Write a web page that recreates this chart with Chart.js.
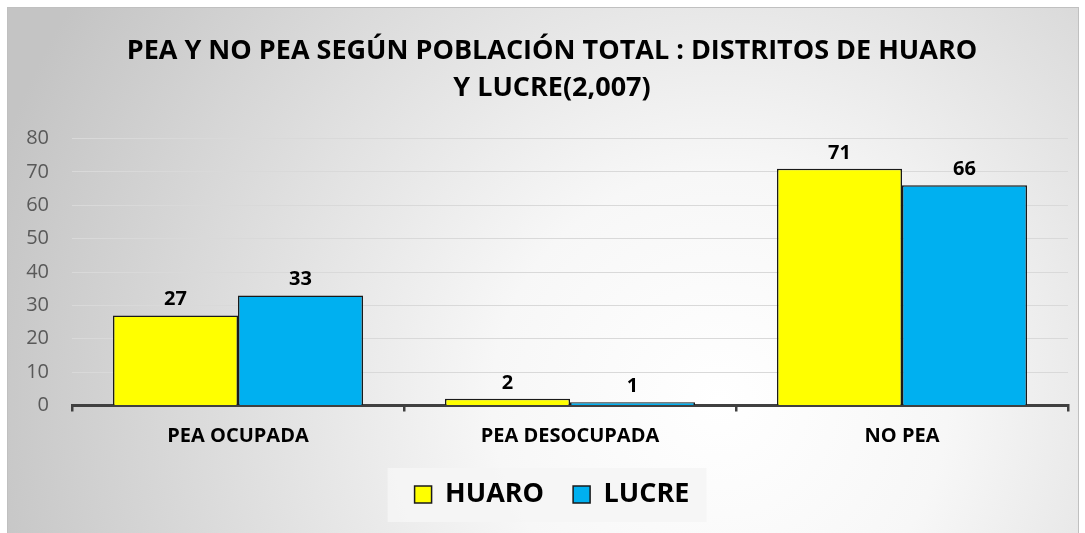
<!DOCTYPE html>
<html><head><meta charset="utf-8">
<script src="https://cdn.jsdelivr.net/npm/chart.js@4"></script>
<style>html,body{margin:0;padding:0;background:#fff}#wrap{width:1085px;height:533px;position:relative}</style>
</head><body><div id="wrap"><canvas id="c" width="1085" height="533"></canvas></div>
<script>
const categories = ['PEA OCUPADA', 'PEA DESOCUPADA', 'NO PEA'];
const huaro = [27, 2, 71];
const lucre = [33, 1, 66];
const seriesNames = ['HUARO', 'LUCRE'];
const titleLines = ['PEA Y NO PEA SEGÚN POBLACIÓN TOTAL : DISTRITOS DE HUARO', 'Y LUCRE(2,007)'];
const FONT = "'Open Sans', sans-serif";

const bgPlugin = {
  id: 'bg',
  beforeDraw(chart) {
    const ctx = chart.ctx, w = chart.width, h = chart.height;
    ctx.save();
    ctx.fillStyle = '#ffffff';
    ctx.fillRect(0, 0, w, h);
    const g = ctx.createRadialGradient(720, 400, 0, 720, 400, 760);
    g.addColorStop(0, '#ffffff');
    g.addColorStop(0.3, '#f7f7f7');
    g.addColorStop(1, '#c4c4c4');
    ctx.fillStyle = g;
    ctx.fillRect(7, 7, w - 13, h - 7);
    ctx.strokeStyle = '#c0c0c0';
    ctx.lineWidth = 1;
    ctx.strokeRect(7.5, 7.5, w - 14, h - 7);
    const lg = chart.legend;
    if (lg && lg.legendHitBoxes && lg.legendHitBoxes.length) {
      const hb = lg.legendHitBoxes;
      const l = Math.min(...hb.map(b => b.left)) - 27;
      const r = Math.max(...hb.map(b => b.left + b.width)) + 17;
      const t = hb[0].top - 13, b = hb[0].top + hb[0].height + 14;
      ctx.fillStyle = 'rgba(245,245,245,0.9)';
      ctx.fillRect(l, t, r - l, b - t);
    }
    ctx.restore();
  }
};

const labelPlugin = {
  id: 'vlabels',
  afterDatasetsDraw(chart) {
    const ctx = chart.ctx;
    ctx.save();
    ctx.font = "bold 20px " + FONT;
    ctx.fillStyle = '#000';
    ctx.textAlign = 'center';
    ctx.textBaseline = 'alphabetic';
    chart.data.datasets.forEach((ds, i) => {
      chart.getDatasetMeta(i).data.forEach((el, j) => {
        ctx.fillText(String(ds.data[j]), el.x, el.y - 10);
      });
    });
    ctx.restore();
  }
};

new Chart(document.getElementById('c'), {
  type: 'bar',
  data: {
    labels: categories,
    datasets: [
      { label: seriesNames[0], data: huaro, backgroundColor: '#FFFF00', borderColor: '#1a1a1a', borderWidth: 1.5, borderSkipped: 'bottom' },
      { label: seriesNames[1], data: lucre, backgroundColor: '#00B0F0', borderColor: '#1a1a1a', borderWidth: 1.5, borderSkipped: 'bottom' }
    ]
  },
  options: {
    responsive: false,
    animation: false,
    devicePixelRatio: 1,
    layout: { padding: { left: 20, right: 1, top: 7, bottom: 15 } },
    datasets: { bar: { categoryPercentage: 0.753, barPercentage: 1 } },
    plugins: {
      title: {
        display: true,
        text: titleLines,
        color: '#000',
        font: { family: FONT, size: 27, weight: 'bold', lineHeight: 1.4 },
        padding: { top: 25, bottom: 31 }
      },
      legend: {
        position: 'bottom',
        labels: {
          color: '#000',
          font: { family: FONT, size: 27, weight: 'bold' },
          boxWidth: 17, boxHeight: 17, padding: 29
        }
      },
      tooltip: { enabled: false }
    },
    scales: {
      x: {
        grid: { display: true, drawOnChartArea: false, drawTicks: true, tickLength: 6, color: '#404040', lineWidth: 2.5, offset: true },
        border: { display: true, color: '#404040', width: 3 },
        ticks: { color: '#000', font: { family: FONT, size: 20, weight: 'bold' }, padding: 13 },
        afterFit(s) { s.height = 46.5; }
      },
      y: {
        min: 0, max: 80,
        ticks: { stepSize: 10, color: '#595959', font: { family: FONT, size: 20 }, padding: 23 },
        grid: { color: '#d9d9d9', lineWidth: 1, drawTicks: false },
        border: { display: false },
        afterFit(s) { s.width = 52; }
      },
      yRight: {
        position: 'right',
        display: true,
        ticks: { display: false },
        grid: { display: false, drawTicks: false },
        border: { display: false },
        afterFit(s) { s.width = 16; }
      }
    }
  },
  plugins: [bgPlugin, labelPlugin]
});
</script>
</body></html>
